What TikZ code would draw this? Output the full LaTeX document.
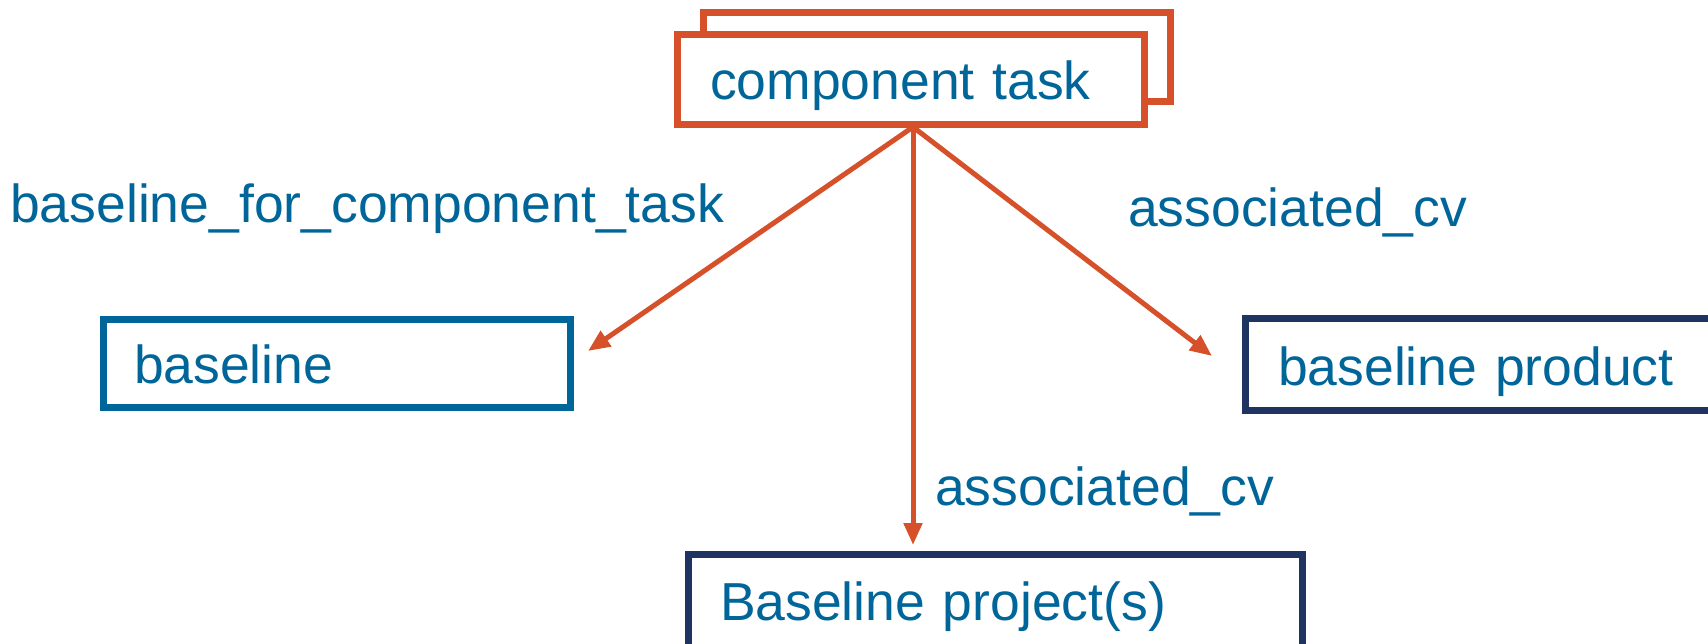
\documentclass[tikz,border=0pt]{standalone}
\usepackage{fontspec}
\setmainfont{Liberation Sans}
\usetikzlibrary{arrows.meta}
\definecolor{orng}{RGB}{214,81,42}
\definecolor{txtblue}{RGB}{0,102,153}
\definecolor{navy}{RGB}{31,52,96}
\newcommand{\bigfont}{\fontsize{53.5}{60}\selectfont}
\tikzset{
  boxbase/.style={draw, line width=7pt, fill=white, inner sep=0pt, outer sep=0pt,
    anchor=north west, align=left, text=txtblue, font=\bigfont},
  conn/.style={draw=orng, line width=5pt, -{Triangle[length=22pt,width=18pt]}},
  lbl/.style={inner sep=0pt, anchor=base west, text=txtblue, font=\bigfont}
}
\begin{document}
\begin{tikzpicture}[x=1pt,y=-1pt]
\useasboundingbox (0,0) rectangle (1708,644);
% boxes
\node[boxbase, draw=orng, minimum width=467pt, minimum height=89pt] (ctback) at (703,13) {};
\node[boxbase, draw=orng, text width=467pt, text height=65pt, text depth=25pt] (ct) at (677,35) {\hspace*{33pt}component task};
\node[boxbase, draw=txtblue, text width=467pt, text height=63pt, text depth=24pt] (bl) at (103,320) {\hspace*{31pt}baseline};
\node[boxbase, draw=navy, text width=495pt, text height=66pt, text depth=25pt] (bp) at (1245,319) {\hspace*{33pt}baseline product};
\node[boxbase, draw=navy, text width=614pt, text height=66pt, text depth=80pt] (bj) at (688,554) {\hspace*{32pt}Baseline project(s)};
% arrow tips
\coordinate (tipL) at (588,351);
\coordinate (tipR) at (1212,356);
\coordinate (tipD) at (913,545);
\coordinate (src) at (913,127);
\draw[conn] (src) -- (tipL);
\draw[conn] (src) -- (tipR);
\draw[conn] (src) -- (tipD);
% labels
\node[lbl] (l1) at (10,223) {baseline\_for\_component\_task};
\node[lbl] (l2) at (1128,227) {associated\_cv};
\node[lbl] (l3) at (935,505) {associated\_cv};
\end{tikzpicture}
\end{document}
